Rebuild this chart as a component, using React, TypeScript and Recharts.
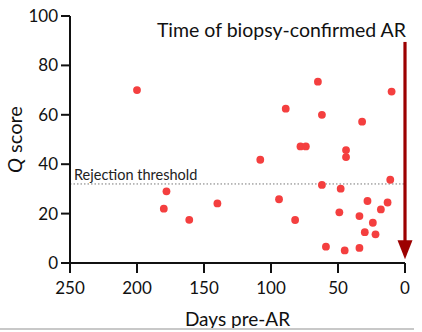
import { ScatterChart, Scatter, XAxis, YAxis, ReferenceLine } from 'recharts';

// days before biopsy-confirmed acute rejection
const DAYS = [
  200, 65, 10, 89, 62, 32, 78, 74, 44, 44, 108, 11, 62, 48, 178, 94,
  28, 13, 140, 180, 18, 49, 34, 82, 161, 24, 30, 22, 59, 45, 34,
];
// Q score at each sample
const Q_SCORES = [
  70, 73.4, 69.4, 62.5, 60, 57.2, 47.2, 47.2, 45.7, 42.9, 41.8, 33.7, 31.6, 30.1, 29, 25.8,
  25.1, 24.5, 24.1, 22, 21.7, 20.5, 19, 17.4, 17.5, 16.3, 12.5, 11.6, 6.6, 5.1, 6.1,
];
const X_TICKS = [0, 50, 100, 150, 200, 250];
const Y_TICKS = [0, 20, 40, 60, 80, 100];
const THRESHOLD = 32;
const AR_ARROW = [
  { x: 0, y: 89.5 },
  { x: 0, y: 1.5 },
];

const FONT = 'Lato, sans-serif';
const DOT = '#f43f3f';
const ARROW = '#9c0000';

const points = DAYS.map((d, i) => ({ day: d, q: Q_SCORES[i] }));

function Dot({ cx, cy }: any) {
  return <circle cx={cx} cy={cy} r={3.9} fill={DOT} />;
}

function Arrow({ x1, y1, x2, y2 }: any) {
  return (
    <g>
      <text x={x1 + 1} y={y1 - 5} textAnchor="end" fontFamily={FONT} fontSize={19.5} fill="#111">
        Time of biopsy-confirmed AR
      </text>
      <line x1={x1} y1={y1} x2={x2} y2={y2 - 14} stroke={ARROW} strokeWidth={3.2} />
      <polygon points={`${x2 - 7.5},${y2 - 19} ${x2 + 7.5},${y2 - 19} ${x2},${y2}`} fill={ARROW} />
    </g>
  );
}

export default function App() {
  return (
    <div style={{ position: 'absolute', left: 0, top: 0, width: 422, height: 332, background: '#fff' }}>
      <ScatterChart width={422} height={332} margin={{ top: 16, right: 17, left: 10, bottom: 39 }}>
        <XAxis
          type="number"
          dataKey="day"
          domain={[0, 250]}
          ticks={X_TICKS}
          reversed
          height={30}
          axisLine={{ stroke: '#111', strokeWidth: 2 }}
          tickLine={{ stroke: '#111', strokeWidth: 2 }}
          tickSize={10}
          tickMargin={9}
          tick={{ fill: '#111', fontSize: 17, fontFamily: FONT }}
          label={({ viewBox }: any) => (
            <text
              x={viewBox.x + viewBox.width / 2}
              y={viewBox.y + 63}
              textAnchor="middle"
              fontFamily={FONT}
              fontSize={19}
              fill="#111"
            >
              Days pre-AR
            </text>
          )}
        />
        <YAxis
          type="number"
          dataKey="q"
          domain={[0, 100]}
          ticks={Y_TICKS}
          width={60}
          axisLine={{ stroke: '#111', strokeWidth: 2 }}
          tickLine={{ stroke: '#111', strokeWidth: 2 }}
          tickSize={9}
          tickMargin={3}
          tick={{ fill: '#111', fontSize: 17, fontFamily: FONT }}
          label={({ viewBox }: any) => {
            const cx = viewBox.x + 12;
            const cy = viewBox.y + viewBox.height / 2;
            return (
              <text
                x={cx}
                y={cy}
                transform={`rotate(-90 ${cx} ${cy})`}
                textAnchor="middle"
                fontFamily={FONT}
                fontSize={20}
                fill="#111"
              >
                <tspan fontStyle="italic">Q</tspan> score
              </text>
            );
          }}
        />
        <ReferenceLine
          y={THRESHOLD}
          stroke="#777"
          strokeWidth={1}
          strokeDasharray="1.5 2"
          label={({ viewBox }: any) => (
            <text x={viewBox.x + 4} y={viewBox.y - 3.5} fontFamily={FONT} fontSize={14.5} fill="#222">
              Rejection threshold
            </text>
          )}
        />
        <Scatter data={points} shape={<Dot />} isAnimationActive={false} />
        <ReferenceLine segment={AR_ARROW} shape={Arrow} />
      </ScatterChart>
      <div style={{ position: 'absolute', left: 0, top: 328, width: 414, height: 2, background: '#c8c8c8' }} />
    </div>
  );
}
